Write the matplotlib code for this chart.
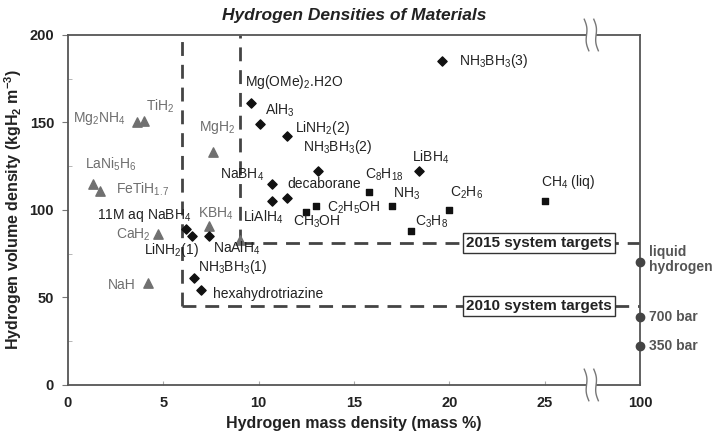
import numpy as np
import matplotlib
matplotlib.use("Agg")
import matplotlib.pyplot as plt
import matplotlib.transforms as mtransforms

plt.rcParams['font.family'] = ['Liberation Sans', 'DejaVu Sans']
plt.rcParams['mathtext.fontset'] = 'custom'
plt.rcParams['mathtext.rm'] = 'Liberation Sans'
plt.rcParams['mathtext.it'] = 'Liberation Sans:italic'
plt.rcParams['mathtext.bf'] = 'Liberation Sans:bold'

# metal hydrides (gray triangles)
tri_names = ['Mg$_2$NH$_4$', 'TiH$_2$', 'MgH$_2$', 'LaNi$_5$H$_6$', 'FeTiH$_{1.7}$',
             'CaH$_2$', 'NaH', 'KBH$_4$', 'NaAlH$_4$']
tri_mass = [3.6, 4.0, 7.6, 1.3, 1.7, 4.7, 4.2, 7.4, 9.0]
tri_vol = [150, 151, 133, 115, 111, 86, 58, 91, 83]

# complex / chemical hydrides (black diamonds)
dia_names = ['NH$_3$BH$_3$(3)', 'Mg(OMe)$_2$.H2O', 'AlH$_3$', 'LiNH$_2$(2)', 'NH$_3$BH$_3$(2)',
             'LiBH$_4$', 'NaBH$_4$', 'decaborane', 'LiAlH$_4$', '11M aq NaBH$_4$',
             'LiNH$_2$(1)', 'NaAlH$_4$ ', 'NH$_3$BH$_3$(1)', 'hexahydrotriazine']
dia_mass = [19.6, 9.6, 10.1, 11.5, 13.1, 18.4, 10.7, 11.5, 10.7, 6.2, 6.5, 7.4, 6.6, 7.0]
dia_vol = [185, 161, 149, 142, 122, 122, 115, 107, 105, 89, 85, 85, 61, 54]

# hydrocarbons / liquids (black squares)
sq_names = ['C$_8$H$_{18}$', 'NH$_3$', 'C$_2$H$_5$OH', 'CH$_3$OH', 'C$_3$H$_8$', 'C$_2$H$_6$', 'CH$_4$ (liq)']
sq_mass = [15.8, 17.0, 13.0, 12.5, 18.0, 20.0, 25.0]
sq_vol = [110, 102, 102, 99, 88, 100, 105]

# physical storage at 100 mass %
phys_names = ['liquid\nhydrogen', '700 bar', '350 bar']
phys_vol = [70, 39, 22]

# DOE system targets (mass %, volume)
target_names = ['2010 system targets', '2015 system targets']
target_mass = [6, 9]
target_vol = [45, 81]

xtick_vals = [0, 5, 10, 15, 20, 25, 100]

# label placement (layout only)
label_pos = {
    'Mg$_2$NH$_4$': (0.25, 152), 'TiH$_2$': (4.1, 159), 'MgH$_2$': (6.9, 147),
    'LaNi$_5$H$_6$': (0.9, 126), 'FeTiH$_{1.7}$': (2.5, 112), 'CaH$_2$': (2.5, 86),
    'NaH': (2.1, 57), 'KBH$_4$': (6.8, 98), 'NaAlH$_4$': None,
    'NH$_3$BH$_3$(3)': (20.5, 185), 'Mg(OMe)$_2$.H2O': (9.3, 173), 'AlH$_3$': (10.35, 157),
    'LiNH$_2$(2)': (11.9, 147), 'NH$_3$BH$_3$(2)': (12.35, 136), 'LiBH$_4$': (18.05, 130),
    'NaBH$_4$': (8.0, 120), 'decaborane': (11.5, 115), 'LiAlH$_4$': (9.2, 96),
    '11M aq NaBH$_4$': (1.5, 97), 'LiNH$_2$(1)': (4.0, 77), 'NaAlH$_4$ ': (7.6, 78),
    'NH$_3$BH$_3$(1)': (6.8, 67.5), 'hexahydrotriazine': (7.6, 52),
    'C$_8$H$_{18}$': (15.6, 120), 'NH$_3$': (17.05, 109), 'C$_2$H$_5$OH': (13.6, 101),
    'CH$_3$OH': (11.8, 93), 'C$_3$H$_8$': (18.2, 93), 'C$_2$H$_6$': (20.05, 110),
    'CH$_4$ (liq)': (24.8, 116),
}


def xmap(v):
    # broken axis: 0-25 linear, then 25-100 squeezed into 25-30
    v = np.asarray(v, dtype=float)
    return np.where(v <= 25, v, 25 + (v - 25) * 5.0 / 75.0)


fig = plt.figure(figsize=(7.15, 4.43), dpi=100)
ax = fig.add_axes([0.095, 0.131, 0.80, 0.79])
ax.set_xlim(0, 30)
ax.set_ylim(0, 200)

gray = '#6e6e6e'
dark = '#222222'
line_c = '#444444'

ax.scatter(xmap(tri_mass), tri_vol, marker='^', s=45, color='#707070', zorder=4)
ax.scatter(xmap(dia_mass), dia_vol, marker='D', s=22, color='#111111', zorder=4)
ax.scatter(xmap(sq_mass), sq_vol, marker='s', s=15, color='#111111', zorder=4)

for n in tri_names:
    p = label_pos.get(n)
    if p:
        ax.text(p[0], p[1], n, color=gray, fontsize=10, va='center', ha='left', zorder=5)
for n in dia_names + sq_names:
    p = label_pos.get(n)
    if p:
        ax.text(p[0], p[1], n, color=dark, fontsize=10, va='center', ha='left', zorder=5)

# target lines
dash = (0, (5, 3.2))
for m, v, name in zip(target_mass, target_vol, target_names):
    ax.plot([m, m], [v, 200], color=line_c, lw=2, linestyle=dash, zorder=2)
    ax.plot([m, 30], [v, v], color=line_c, lw=2, linestyle=dash, zorder=2)
    ax.text(24.7, v, name, fontsize=11, fontweight='bold', ha='center', va='center',
            color='#222222', zorder=6,
            bbox=dict(boxstyle='square,pad=0.2', fc='white', ec='#333333', lw=1))

# physical storage points on the 100 % spine
ax.scatter(xmap([100] * len(phys_vol)), phys_vol, marker='o', s=36, color='#444444',
           zorder=6, clip_on=False)
for n, v in zip(phys_names, phys_vol):
    ax.text(30.5, v + (1.5 if '\n' in n else 0), n, fontsize=10, fontweight='bold',
            color='#555555', ha='left', va='center', linespacing=1.1, clip_on=False)

# spines with break
for s in ['top', 'bottom']:
    ax.spines[s].set_visible(False)
for s in ['left', 'right']:
    ax.spines[s].set_color('#555555')
    ax.spines[s].set_linewidth(1.3)
trans = mtransforms.blended_transform_factory(ax.transData, ax.transAxes)
for yy in [0, 1]:
    ax.plot([0, 27.15], [yy, yy], color='#555555', lw=1.3, transform=trans, clip_on=False)
    ax.plot([27.75, 30], [yy, yy], color='#555555', lw=1.3, transform=trans, clip_on=False)
    t = np.linspace(-1, 1, 40)
    for xc in [27.2, 27.7]:
        ax.plot(xc - 0.12 * t + 0.07 * np.sin(np.pi * t), yy + 0.045 * t, color='#777777',
                lw=1.0, transform=trans, clip_on=False)

ax.set_xticks(xmap(xtick_vals))
ax.set_xticklabels([str(v) for v in xtick_vals])
ax.set_yticks([0, 50, 100, 150, 200])
ax.set_yticks([25, 75, 125, 175], minor=True)
ax.tick_params(axis='x', direction='in', length=3, color='#aaaaaa', pad=8)
ax.tick_params(axis='y', which='major', direction='out', length=4, color='#777777', pad=6)
ax.tick_params(axis='y', which='minor', direction='in', length=3, color='#aaaaaa')
for lab in ax.get_xticklabels() + ax.get_yticklabels():
    lab.set_fontweight('bold')
    lab.set_fontsize(10.5)
    lab.set_color('#222222')

ax.set_xlabel('Hydrogen mass density (mass %)', fontsize=11.5, fontweight='bold', color='#222222')
ax.set_ylabel(r'Hydrogen volume density (kgH$_\mathbf{2}$ m$^\mathbf{-3}$)', fontsize=11.5,
              fontweight='bold', color='#222222')
ax.set_title('Hydrogen Densities of Materials', fontsize=12.5, fontweight='bold',
             fontstyle='italic', color='#222222', pad=11)

fig.savefig('out.png', dpi=100)
